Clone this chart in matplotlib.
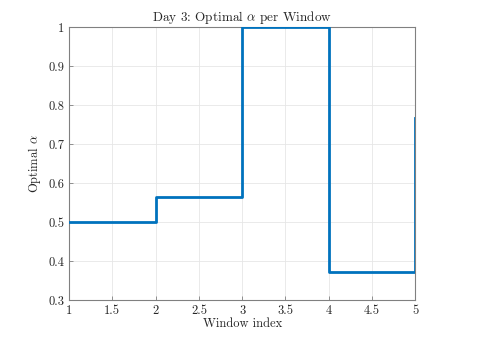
import matplotlib
matplotlib.use("Agg")
import matplotlib.pyplot as plt

windows = [1, 2, 3, 4, 5]
alpha = [0.500, 0.565, 1.000, 0.372, 0.766]
xticks = [1, 1.5, 2, 2.5, 3, 3.5, 4, 4.5, 5]
yticks = [0.3, 0.4, 0.5, 0.6, 0.7, 0.8, 0.9, 1.0]
ytick_labels = ["0.3", "0.4", "0.5", "0.6", "0.7", "0.8", "0.9", "1"]
xtick_labels = ["1", "1.5", "2", "2.5", "3", "3.5", "4", "4.5", "5"]

plt.rcParams['font.family'] = ['cmr10', 'DejaVu Serif']
plt.rcParams['mathtext.fontset'] = 'cm'
plt.rcParams['axes.formatter.use_mathtext'] = True

fig = plt.figure(figsize=(4.8, 3.44), dpi=100)
ax = fig.add_axes([0.144, 0.128, 0.721, 0.7935])
ax.step(windows, alpha, where='post', color='#0072BD', linewidth=2.0, zorder=3)
ax.set_xlim(1, 5)
ax.set_ylim(0.3, 1.0)
ax.set_xticks(xticks)
ax.set_xticklabels(xtick_labels)
ax.set_yticks(yticks)
ax.set_yticklabels(ytick_labels)
ax.grid(True, color='#e6e6e6', linewidth=0.6)
ax.set_axisbelow(True)
for s in ax.spines.values():
    s.set_color('#808080')
    s.set_linewidth(0.8)
ax.tick_params(direction='in', length=3, width=0.6, colors='#808080', labelcolor='#262626', labelsize=9, top=False, right=False)
ax.set_xlabel('Window index', fontsize=9, color='#262626', labelpad=1)
ax.set_ylabel(r'Optimal $\alpha$', fontsize=9, color='#262626', labelpad=4)
ax.set_title(r'Day 3: Optimal $\alpha$ per Window', fontsize=9.5, color='#262626', pad=4)
fig.savefig('out.png', dpi=100, facecolor='white')
